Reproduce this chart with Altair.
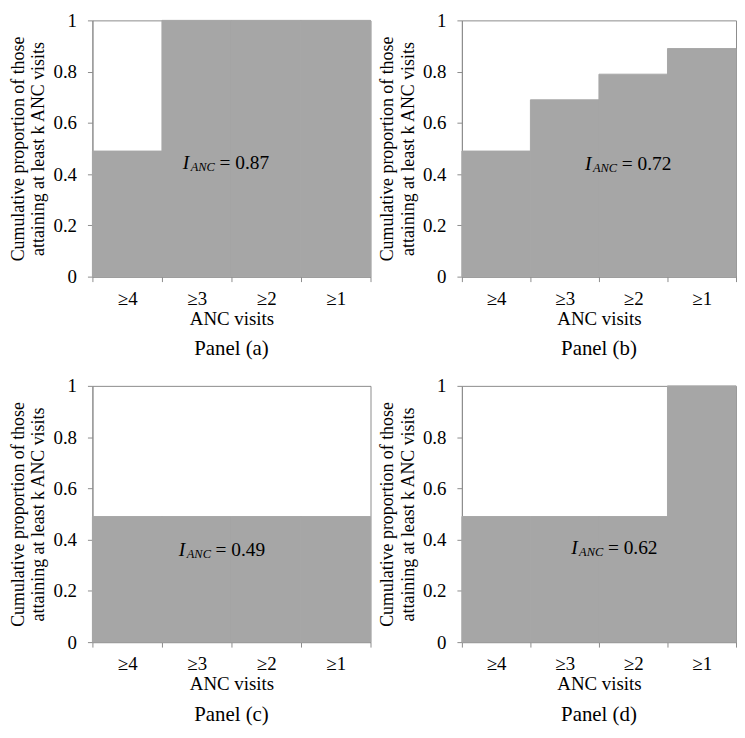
import altair as alt
import pandas as pd

categories = ["≥4", "≥3", "≥2", "≥1"]
panel_a = [0.49, 1.0, 1.0, 1.0]
panel_b = [0.49, 0.69, 0.79, 0.89]
panel_c = [0.49, 0.49, 0.49, 0.49]
panel_d = [0.49, 0.49, 0.49, 1.0]
panel_values = [panel_a, panel_b, panel_c, panel_d]
panel_names = ["Panel (a)", "Panel (b)", "Panel (c)", "Panel (d)"]
index_values = [0.87, 0.72, 0.49, 0.62]

# annotation placement: px from plot left, y in data units
label_x = [91, 124, 87, 110]
label_y = [0.42, 0.415, 0.335, 0.345]

FONT = "Liberation Serif"
FILL = "#a6a6a6"
LINE = "#8c8c8c"
Y_TITLE = ["Cumulative proportion of those", "attaining at least k ANC visits"]

col_widths = [280, 276]
HEIGHT = 258


def panel(vals, name, idx, lx, ly, width):
    df = pd.DataFrame({"visits": categories, "prop": vals})
    x = alt.X(
        "visits:N", sort=categories, title="ANC visits",
        scale=alt.Scale(paddingInner=0, paddingOuter=0),
        axis=alt.Axis(labelAngle=0, tickBand="extent"),
    )
    y = alt.Y(
        "prop:Q", title=Y_TITLE,
        scale=alt.Scale(domain=[0, 1], nice=False),
        axis=alt.Axis(values=[0, 0.2, 0.4, 0.6, 0.8, 1], format="~g"),
    )
    bars = alt.Chart(df).mark_bar(color=FILL, stroke=FILL, strokeWidth=1).encode(x=x, y=y)

    ann = pd.DataFrame({"sym": ["I"], "sub": ["ANC"], "val": [f"= {idx:.2f}"]})
    base = alt.Chart(ann)
    t1 = base.mark_text(font=FONT, fontStyle="italic", fontSize=19.5, align="left",
                        baseline="alphabetic", color="black").encode(
        x=alt.value(lx), y=alt.datum(ly), text="sym:N")
    t2 = base.mark_text(font=FONT, fontStyle="italic", fontSize=12.5, align="left",
                        baseline="alphabetic", dy=2, color="black").encode(
        x=alt.value(lx + 8), y=alt.datum(ly), text="sub:N")
    t3 = base.mark_text(font=FONT, fontSize=19.5, align="left",
                        baseline="alphabetic", color="black").encode(
        x=alt.value(lx + 37), y=alt.datum(ly), text="val:N")

    return alt.layer(bars, t1, t2, t3).properties(
        width=width, height=HEIGHT,
        title=alt.TitleParams(name, orient="bottom", offset=10, fontSize=21,
                              font=FONT, fontWeight="normal", color="black"),
    )


panels = []
for i in range(4):
    panels.append(panel(panel_values[i], panel_names[i], index_values[i],
                        label_x[i], label_y[i], col_widths[i % 2]))

chart = alt.concat(*panels, columns=2, spacing={"row": 110, "column": 92},
                   bounds="flush").properties(
    padding={"left": 0, "top": 0, "right": 0, "bottom": 0}
).configure_view(stroke=LINE, strokeWidth=1).configure_axis(
    grid=False, domainColor=LINE, tickColor=LINE, tickSize=5,
    labelFont=FONT, labelFontSize=19, labelColor="black",
    titleFont=FONT, titleFontSize=19, titleFontWeight="normal", titleColor="black",
).configure_axisY(
    labelPadding=11, titleFontSize=18, titleLineHeight=21, titlePadding=5,
).configure_axisX(
    labelPadding=8, titlePadding=1,
)

chart.save("out.html", embed_options={"renderer": "svg", "actions": False})
